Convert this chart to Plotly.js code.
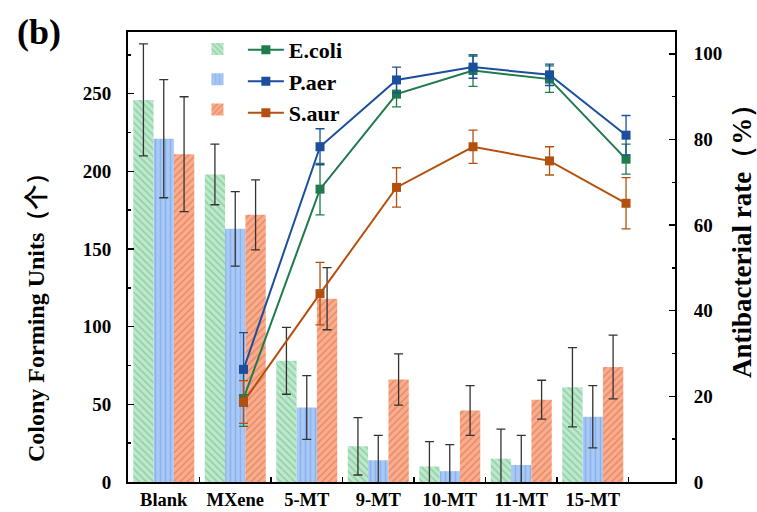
<!DOCTYPE html>
<html>
<head>
<meta charset="utf-8">
<script src="https://cdn.plot.ly/plotly-3.0.1.min.js"></script>
<style>html,body{margin:0;padding:0;background:#fff;}#chart{width:757px;height:512px;}</style>
</head>
<body>
<div id="chart"></div>
<script>
// ---- data ----
const categories = ['Blank', 'MXene', '5-MT', '9-MT', '10-MT', '11-MT', '15-MT'];

const ecoliCFU    = [246, 198, 78, 23, 10, 15, 61];
const ecoliCFUErr = [36, 19.5, 21.5, 18.5, 16, 19, 25.5];
const paerCFU     = [221, 163, 48, 14, 7, 11, 42];
const paerCFUErr  = [38, 24, 20.5, 16, 17, 19, 20];
const saurCFU     = [211, 172, 118, 66, 46, 53, 74];
const saurCFUErr  = [37, 22.5, 20, 16.5, 16, 12.5, 20.5];

const ecoliRate    = [null, 19.5, 68.4, 90.6, 96.1, 94.1, 75.4];
const ecoliRateErr = [null, 6.5, 6, 3, 3.7, 3.1, 3.5];
const paerRate     = [null, 26.3, 78.3, 93.9, 96.9, 95.1, 81];
const paerRateErr  = [null, 8.6, 4.2, 3, 2.6, 2.5, 4.6];
const saurRate     = [null, 18.7, 44, 68.8, 78.3, 75, 65.1];
const saurRateErr  = [null, 5, 7.3, 4.6, 3.9, 3.3, 6];

const seriesNames = ['E.coli', 'P.aer', 'S.aur'];

// ---- styles ----
const FONT = 'Liberation Serif, Times New Roman, serif';
const barStyles = [
  {bg: '#bde8cb', fg: '#8fd0a5', shape: '\\'},
  {bg: '#a9c9f5', fg: '#8ab3ee', shape: '|'},
  {bg: '#f7ae90', fg: '#ee8860', shape: '/'}
];
const lineColors = ['#1f7a4c', '#1b4f9e', '#b4500f'];

function barTrace(vals, errs, i) {
  return {
    type: 'bar', x: categories, y: vals, name: '', xaxis: 'x', yaxis: 'y',
    legend: 'legend', showlegend: true,
    marker: {color: barStyles[i].bg, line: {width: 0},
      pattern: {shape: barStyles[i].shape, bgcolor: barStyles[i].bg, fgcolor: barStyles[i].fg, size: 5, solidity: 0.3}},
    error_y: {type: 'data', array: errs, visible: true, color: '#333333', thickness: 1.3, width: 4.5},
    hoverinfo: 'skip'
  };
}
function lineTrace(vals, errs, i) {
  return {
    type: 'scatter', mode: 'lines+markers', x: categories, y: vals, name: seriesNames[i],
    xaxis: 'x2', yaxis: 'y2', legend: 'legend2', connectgaps: false,
    line: {color: lineColors[i], width: 2},
    marker: {symbol: 'square', size: 9, color: lineColors[i]},
    error_y: {type: 'data', array: errs, visible: true, color: lineColors[i], thickness: 1.3, width: 4.5},
    hoverinfo: 'skip'
  };
}

const data = [
  barTrace(ecoliCFU, ecoliCFUErr, 0),
  barTrace(paerCFU, paerCFUErr, 1),
  barTrace(saurCFU, saurCFUErr, 2),
  lineTrace(ecoliRate, ecoliRateErr, 0),
  lineTrace(paerRate, paerRateErr, 1),
  lineTrace(saurRate, saurRateErr, 2)
];

const axisFont = {family: FONT, size: 19, color: '#000', weight: 'bold'};
const layout = {
  width: 757, height: 512,
  margin: {l: 128, r: 82, t: 32, b: 30},
  paper_bgcolor: '#fff', plot_bgcolor: '#fff',
  font: {family: FONT, color: '#000'},
  barmode: 'group', bargap: 0.147, bargroupgap: 0,
  showlegend: true,
  xaxis: {
    type: 'category', categoryorder: 'array', categoryarray: categories,
    range: [-0.5, 7.15], tickson: 'boundaries', ticks: 'inside', ticklen: 5, tickwidth: 1.5,
    tickcolor: '#000', showline: true, linecolor: '#000', linewidth: 2, mirror: true,
    showgrid: false, zeroline: false, automargin: false, ticklabelstandoff: 0,
    tickfont: {family: FONT, size: 18.5, color: '#000', weight: 'bold'}
  },
  xaxis2: {
    type: 'category', categoryorder: 'array', categoryarray: categories,
    range: [-0.51, 6.64], overlaying: 'x', visible: false
  },
  yaxis: {
    range: [0, 289.7], dtick: 50, tick0: 0, ticks: 'inside', ticklen: 6, tickwidth: 1.5,
    tickcolor: '#000', showline: true, linecolor: '#000', linewidth: 2,
    showgrid: false, zeroline: false, automargin: false, tickfont: axisFont, ticklabelstandoff: 11,
    minor: {dtick: 25, ticks: 'inside', ticklen: 3, tickwidth: 1.5, tickcolor: '#000', showgrid: false}
  },
  yaxis2: {
    range: [0, 105.1], dtick: 20, tick0: 0, overlaying: 'y', side: 'right',
    ticks: 'inside', ticklen: 6, tickwidth: 1.5, tickcolor: '#000',
    showline: true, linecolor: '#000', linewidth: 2, ticklabelstandoff: 13,
    showgrid: false, zeroline: false, automargin: false, tickfont: axisFont,
    minor: {dtick: 10, ticks: 'inside', ticklen: 3, tickwidth: 1.5, tickcolor: '#000', showgrid: false}
  },
  legend: {
    x: 0.127, y: 1.007, xanchor: 'left', yanchor: 'top',
    bgcolor: 'rgba(0,0,0,0)', borderwidth: 0, tracegroupgap: 0,
    font: {family: FONT, size: 21, color: '#000', weight: 'bold'}
  },
  legend2: {
    x: 0.21, y: 1.007, xanchor: 'left', yanchor: 'top',
    bgcolor: 'rgba(0,0,0,0)', borderwidth: 0, tracegroupgap: 0, itemwidth: 36,
    font: {family: FONT, size: 22, color: '#000', weight: 'bold'}
  },
  annotations: [
    {text: 'Colony Forming Units（个）', xref: 'paper', yref: 'paper', x: -0.168, y: 0.378,
     textangle: -90, showarrow: false, xanchor: 'center', yanchor: 'middle',
     font: {family: FONT, size: 24, color: '#000', weight: 'bold'}},
    {text: 'Antibacterial rate（%）', xref: 'paper', yref: 'paper', x: 1.1225, y: 0.549,
     textangle: -90, showarrow: false, xanchor: 'center', yanchor: 'middle',
     font: {family: FONT, size: 27, color: '#000', weight: 'bold'}},
    {text: '(b)', xref: 'paper', yref: 'paper', x: -0.163, y: 1.0,
     showarrow: false, xanchor: 'center', yanchor: 'middle',
     font: {family: FONT, size: 36, color: '#000', weight: 'bold'}}
  ]
};

Plotly.newPlot('chart', data, layout, {displayModeBar: false, staticPlot: true});
</script>
</body>
</html>
